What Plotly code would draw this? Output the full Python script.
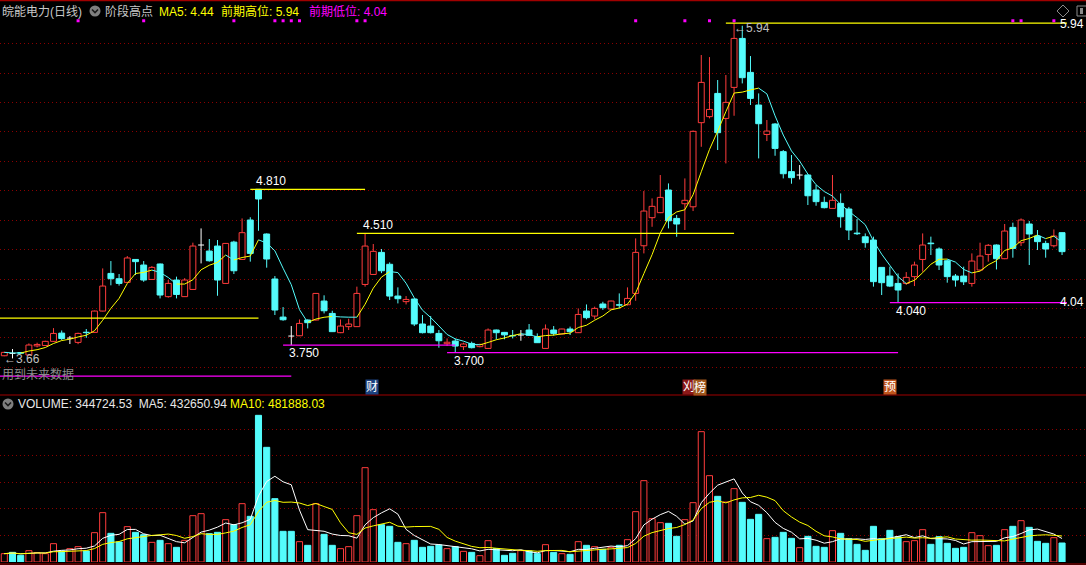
import plotly.graph_objects as go
import pandas as pd

W, H = 1086, 565

opens = [3.678, 3.694, 3.700, 3.683, 3.745, 3.748, 3.776, 3.832, 3.798, 3.769,
         3.838, 3.837, 3.982, 4.238, 4.202, 4.177, 4.333, 4.295, 4.197, 4.302,
         4.080, 4.193, 4.080, 4.129, 4.431, 4.390, 4.424, 4.170, 4.451, 4.333,
         4.601, 4.810, 4.506, 4.200, 3.941, 3.812, 3.814, 3.921, 3.921, 4.050,
         3.966, 3.835, 3.876, 3.876, 4.163, 4.231, 4.381, 4.300, 4.084, 4.046,
         4.064, 3.894, 3.880, 3.830, 3.760, 3.778, 3.740, 3.762, 3.740, 3.728,
         3.853, 3.837, 3.816, 3.819, 3.853, 3.808, 3.728, 3.853, 3.826, 3.860,
         3.835, 3.982, 3.948, 4.030, 3.996, 4.025, 4.025, 4.102, 4.426, 4.617,
         4.651, 4.805, 4.612, 4.712, 4.691, 5.263, 5.304, 5.462, 5.292, 5.503,
         5.836, 5.605, 5.383, 5.183, 5.254, 5.066, 4.930, 4.907, 4.907, 4.805,
         4.721, 4.680, 4.714, 4.676, 4.512, 4.487, 4.465, 4.279, 4.220, 4.170,
         4.170, 4.216, 4.333, 4.444, 4.404, 4.324, 4.220, 4.220, 4.170, 4.261,
         4.367, 4.431, 4.338, 4.551, 4.447, 4.574, 4.492, 4.442, 4.426, 4.515]
highs = [3.705, 3.724, 3.703, 3.762, 3.767, 3.780, 3.866, 3.850, 3.812, 3.835,
         3.860, 3.985, 4.272, 4.322, 4.234, 4.356, 4.336, 4.322, 4.288, 4.305,
         4.193, 4.216, 4.206, 4.447, 4.544, 4.472, 4.465, 4.445, 4.460, 4.612,
         4.620, 4.810, 4.510, 4.220, 4.009, 3.880, 3.925, 3.925, 4.105, 4.089,
         3.984, 3.925, 3.930, 4.148, 4.510, 4.438, 4.404, 4.313, 4.143, 4.084,
         4.066, 3.955, 3.948, 3.853, 3.796, 3.794, 3.767, 3.774, 3.760, 3.864,
         3.856, 3.840, 3.853, 3.853, 3.894, 3.830, 3.891, 3.880, 3.862, 3.876,
         4.000, 4.027, 4.012, 4.045, 4.053, 4.102, 4.143, 4.476, 4.798, 4.748,
         4.907, 4.850, 4.635, 4.884, 5.210, 5.723, 5.709, 5.553, 5.587, 5.940,
         5.922, 5.716, 5.462, 5.281, 5.260, 5.077, 5.043, 4.975, 4.910, 4.839,
         4.760, 4.907, 4.782, 4.690, 4.608, 4.510, 4.488, 4.280, 4.284, 4.238,
         4.247, 4.318, 4.510, 4.488, 4.415, 4.333, 4.234, 4.284, 4.374, 4.447,
         4.438, 4.435, 4.574, 4.583, 4.612, 4.594, 4.533, 4.460, 4.537, 4.517]
lows = [3.675, 3.660, 3.690, 3.678, 3.735, 3.745, 3.772, 3.785, 3.758, 3.757,
        3.800, 3.835, 3.980, 4.157, 4.155, 4.175, 4.227, 4.181, 4.195, 4.068,
        4.073, 4.068, 4.078, 4.127, 4.306, 4.318, 4.086, 4.168, 4.234, 4.330,
        4.318, 4.528, 4.277, 3.955, 3.916, 3.750, 3.812, 3.864, 3.918, 3.966,
        3.840, 3.832, 3.853, 3.874, 4.148, 4.228, 4.240, 4.057, 4.034, 4.027,
        3.880, 3.830, 3.830, 3.733, 3.744, 3.700, 3.717, 3.728, 3.735, 3.726,
        3.789, 3.790, 3.796, 3.780, 3.815, 3.765, 3.726, 3.815, 3.823, 3.819,
        3.833, 3.926, 3.926, 3.990, 3.994, 4.000, 4.020, 4.052, 4.374, 4.555,
        4.648, 4.544, 4.487, 4.533, 4.662, 5.099, 5.292, 5.077, 4.986, 5.310,
        5.530, 5.383, 5.020, 5.138, 5.038, 4.884, 4.848, 4.877, 4.703, 4.698,
        4.680, 4.678, 4.549, 4.465, 4.499, 4.413, 4.148, 4.091, 4.145, 4.040,
        4.160, 4.152, 4.250, 4.363, 4.261, 4.175, 4.148, 4.159, 4.148, 4.258,
        4.318, 4.265, 4.335, 4.345, 4.424, 4.295, 4.397, 4.345, 4.415, 4.363]
closes = [3.701, 3.694, 3.695, 3.751, 3.755, 3.776, 3.830, 3.795, 3.798, 3.830,
          3.835, 3.982, 4.152, 4.202, 4.170, 4.343, 4.318, 4.193, 4.279, 4.091,
          4.170, 4.095, 4.193, 4.424, 4.431, 4.324, 4.193, 4.442, 4.256, 4.515,
          4.374, 4.744, 4.336, 3.989, 3.923, 3.812, 3.898, 3.903, 4.102, 3.984,
          3.842, 3.880, 3.894, 4.102, 4.424, 4.388, 4.256, 4.084, 4.066, 4.061,
          3.894, 3.835, 3.835, 3.780, 3.770, 3.744, 3.758, 3.733, 3.755, 3.853,
          3.835, 3.820, 3.813, 3.819, 3.817, 3.767, 3.860, 3.830, 3.860, 3.842,
          3.959, 3.937, 4.000, 4.005, 4.050, 4.022, 4.068, 4.381, 4.662, 4.694,
          4.755, 4.596, 4.574, 4.735, 5.204, 5.537, 5.353, 5.195, 5.401, 5.836,
          5.569, 5.428, 5.256, 5.206, 5.088, 4.916, 4.889, 4.907, 4.766, 4.726,
          4.685, 4.735, 4.623, 4.533, 4.508, 4.447, 4.182, 4.175, 4.152, 4.125,
          4.211, 4.295, 4.431, 4.440, 4.295, 4.216, 4.193, 4.181, 4.322, 4.356,
          4.429, 4.338, 4.526, 4.408, 4.601, 4.506, 4.454, 4.404, 4.492, 4.386]
volumes = [151200, 175400, 121000, 205600, 169300, 151200, 332600, 199600, 241900, 278200,
           199600, 532200, 895100, 520100, 362900, 641100, 538300, 495900, 356800, 393100,
           332600, 266100, 393100, 840700, 877000, 514100, 538300, 768100, 677400, 1058400,
           828600, 2661100, 2080500, 1149100, 556400, 556400, 368900, 302400, 1058400, 502000,
           302400, 241900, 278200, 840700, 1711600, 949500, 677400, 647100, 356800, 332600,
           393100, 266100, 284300, 308400, 241900, 278200, 193500, 175400, 114900, 387100,
           241900, 121000, 157200, 205600, 199600, 151200, 314500, 175400, 151200, 139100,
           368900, 302400, 278200, 229800, 266100, 302400, 405200, 913200, 1475700, 786200,
           713700, 701600, 465700, 768100, 1076500, 2364800, 1566400, 1191500, 1088600, 1330600,
           1082600, 774100, 864900, 423400, 447600, 538300, 429400, 260100, 465700, 284300,
           266100, 568500, 520100, 423400, 320500, 211700, 647100, 423400, 574600, 459600,
           368900, 387100, 586700, 320500, 459600, 338700, 248000, 266100, 532200, 477800,
           296400, 302400, 586700, 647100, 750000, 629000, 375000, 338700, 441500, 344724.53]

# stage highs (yellow) and lows (magenta): level, first bar, last bar
high_levels = [3.934, 4.81, 4.51, 5.94]
high_start = [-0.6, 30, 43, 88]
high_end = [31, 44, 89, 129.6]
low_levels = [3.54, 3.75, 3.70, 4.04]
low_start = [-0.6, 34, 54, 108]
low_end = [35, 55, 109, 129.6]
signal_idx = [9, 17, 28, 33, 34, 35, 36, 43, 44, 77, 83, 86, 89, 123, 124, 128]
signal_level = 5.956

RED = '#ff3c3c'
CYAN = '#54fcfc'
WHITE = '#ffffff'
YEL = '#ffff00'
MAG = '#ff00ff'
GRID = '#8b0000'
FONT = 'Liberation Sans, Noto Sans CJK SC, sans-serif'

n = len(closes)
up = [i for i in range(n) if closes[i] > opens[i]]
dn = [i for i in range(n) if closes[i] < opens[i]]
dj = [i for i in range(n) if closes[i] == opens[i]]

fig = go.Figure()


def wicks(sel):
    xs, ys = [], []
    for i in sel:
        top = max(opens[i], closes[i])
        bot = min(opens[i], closes[i])
        xs += [i, i, None, i, i, None]
        ys += [highs[i], top, None, bot, lows[i], None]
    return xs, ys


for sel, col in ((up, RED), (dn, CYAN), (dj, WHITE)):
    xs, ys = wicks(sel)
    fig.add_trace(go.Scatter(x=xs, y=ys, mode='lines', line=dict(color=col, width=1),
                             hoverinfo='skip', xaxis='x', yaxis='y'))

BW = 0.72
fig.add_trace(go.Bar(x=up, y=[closes[i] - opens[i] for i in up], base=[opens[i] for i in up],
                     width=BW, marker=dict(color='black', line=dict(color=RED, width=1)),
                     xaxis='x', yaxis='y', hoverinfo='skip'))
fig.add_trace(go.Bar(x=dn, y=[opens[i] - closes[i] for i in dn], base=[closes[i] for i in dn],
                     width=BW, marker=dict(color=CYAN, line=dict(color=CYAN, width=1)),
                     xaxis='x', yaxis='y', hoverinfo='skip'))
dx, dy = [], []
for i in dj:
    dx += [i - BW / 2, i + BW / 2, None]
    dy += [opens[i], opens[i], None]
fig.add_trace(go.Scatter(x=dx, y=dy, mode='lines', line=dict(color=WHITE, width=1),
                         hoverinfo='skip', xaxis='x', yaxis='y'))

# MA5 coloured by direction
ma5 = pd.Series(closes).rolling(5, min_periods=1).mean().tolist()
segs = {YEL: ([], []), CYAN: ([], [])}
for i in range(1, n):
    c = YEL if ma5[i] >= ma5[i - 1] else CYAN
    segs[c][0].extend([i - 1, i, None])
    segs[c][1].extend([ma5[i - 1], ma5[i], None])
for c, (xs, ys) in segs.items():
    fig.add_trace(go.Scatter(x=xs, y=ys, mode='lines', line=dict(color=c, width=1),
                             hoverinfo='skip', xaxis='x', yaxis='y'))

# stage lines
for lv, a, b in zip(high_levels, high_start, high_end):
    fig.add_trace(go.Scatter(x=[a, b], y=[lv, lv], mode='lines', line=dict(color=YEL, width=1.3),
                             hoverinfo='skip', xaxis='x', yaxis='y'))
for lv, a, b in zip(low_levels, low_start, low_end):
    fig.add_trace(go.Scatter(x=[a, b], y=[lv, lv], mode='lines', line=dict(color=MAG, width=1.3),
                             hoverinfo='skip', xaxis='x', yaxis='y'))
fig.add_trace(go.Scatter(x=signal_idx, y=[signal_level] * len(signal_idx), mode='markers',
                         marker=dict(symbol='square', size=3, color=MAG, line=dict(width=0)),
                         hoverinfo='skip', xaxis='x', yaxis='y'))


# volume
def vol_up(i):
    if closes[i] != opens[i]:
        return closes[i] > opens[i]
    return i == 0 or closes[i] >= closes[i - 1]


vu = [i for i in range(n) if vol_up(i)]
vd = [i for i in range(n) if not vol_up(i)]
fig.add_trace(go.Bar(x=vu, y=[volumes[i] for i in vu], width=0.74,
                     marker=dict(color='black', line=dict(color=RED, width=1)),
                     xaxis='x2', yaxis='y2', hoverinfo='skip'))
fig.add_trace(go.Bar(x=vd, y=[volumes[i] for i in vd], width=0.74,
                     marker=dict(color=CYAN, line=dict(color=CYAN, width=1)),
                     xaxis='x2', yaxis='y2', hoverinfo='skip'))
vma5 = pd.Series(volumes).rolling(5, min_periods=1).mean().tolist()
vma10 = pd.Series(volumes).rolling(10, min_periods=1).mean().tolist()
fig.add_trace(go.Scatter(x=list(range(n)), y=vma5, mode='lines', line=dict(color=WHITE, width=1),
                         xaxis='x2', yaxis='y2', hoverinfo='skip'))
fig.add_trace(go.Scatter(x=list(range(n)), y=vma10, mode='lines', line=dict(color=YEL, width=1),
                         xaxis='x2', yaxis='y2', hoverinfo='skip'))


def px(x):
    return x / W


def py(y):
    return 1 - y / H


ann = []


def txt(x, y, s, color, size=12, xanchor='left', yanchor='middle', bg=None):
    d = dict(x=px(x), y=py(y), xref='paper', yref='paper', text=s, showarrow=False,
             xanchor=xanchor, yanchor=yanchor, font=dict(family=FONT, size=size, color=color),
             borderpad=0)
    if bg:
        d['bgcolor'] = bg
    ann.append(d)


def dtxt(x, y, s, color, xanchor='left', yanchor='bottom', size=12):
    ann.append(dict(x=x, y=y, xref='x', yref='y', text=s, showarrow=False, xanchor=xanchor,
                    yanchor=yanchor, font=dict(family=FONT, size=size, color=color), borderpad=0))


# header texts
txt(1, 12, '皖能电力(日线)', '#c8c8c8')
txt(104, 12, '阶段高点', '#c8c8c8')
txt(158, 12, 'MA5: 4.44', YEL)
txt(220, 12, '前期高位: 5.94', YEL)
txt(308, 12, '前期低位: 4.04', MAG)
txt(17, 404, 'VOLUME: 344724.53  MA5: 432650.94', '#e8e8e8')
txt(229, 404, 'MA10: 481888.03', YEL)
txt(1, 374, '用到未来数据', '#8c8c8c')

# level labels
dtxt(30.6, 4.81, '4.810', WHITE)
dtxt(43.6, 4.51, '4.510', WHITE)
dtxt(34.6, 3.75, '3.750', WHITE, yanchor='top')
dtxt(54.7, 3.70, '3.700', WHITE, yanchor='top')
dtxt(108.6, 4.04, '4.040', WHITE, yanchor='top')
txt(1085, 302, '4.04', WHITE, xanchor='right')
txt(1085, 24, '5.94', WHITE, xanchor='right')
dtxt(88.9, 5.905, '←5.94', '#c0c0c0', yanchor='middle')
dtxt(-0.1, 3.655, '←3.66', '#c0c0c0', yanchor='middle')

# event marks
txt(371.5, 387, '财', WHITE, xanchor='center', bg='#1c4280')
txt(688.5, 387, '刈', WHITE, xanchor='center', bg='#8c1818')
txt(699.5, 387, '榜', WHITE, xanchor='center', bg='#a0561c')
txt(889.5, 387, '预', WHITE, xanchor='center', bg='#c0541c')

shapes = []


def hline(y, color='#a00000', w=1.2):
    shapes.append(dict(type='line', xref='paper', yref='paper', x0=0, x1=1, y0=py(y), y1=py(y),
                       line=dict(color=color, width=w)))


hline(0.6)
hline(395)
hline(564)


def circle_icon(cx, cy):
    shapes.append(dict(type='circle', xref='paper', yref='paper', x0=px(cx - 5.5), x1=px(cx + 5.5),
                       y0=py(cy + 5.5), y1=py(cy - 5.5), fillcolor='#7f7f7f', line=dict(width=0)))
    shapes.append(dict(type='path', xref='paper', yref='paper',
                       path=f'M {px(cx-3)} {py(cy-1.5)} L {px(cx)} {py(cy+1.5)} L {px(cx+3)} {py(cy-1.5)}',
                       line=dict(color='#1a1a1a', width=1.6)))


circle_icon(95, 11)
circle_icon(8, 404)
shapes.append(dict(type='path', xref='paper', yref='paper',
                   path=f'M {px(1063)} {py(5)} L {px(1069)} {py(11)} L {px(1063)} {py(17)} L {px(1057)} {py(11)} Z',
                   line=dict(color='#8a8a8a', width=1)))
shapes.append(dict(type='rect', xref='paper', yref='paper', x0=px(1077), x1=px(1090),
                   y0=py(16), y1=py(6), line=dict(color='#8a8a8a', width=1)))
shapes.append(dict(type='rect', xref='paper', yref='paper', x0=px(1080), x1=px(1083),
                   y0=py(14), y1=py(8), fillcolor='#8a8a8a', line=dict(width=0)))

xr = [-0.524, 131.92]
fig.update_layout(
    width=W, height=H, margin=dict(l=0, r=0, t=0, b=0), autosize=False,
    paper_bgcolor='black', plot_bgcolor='black', showlegend=False, barmode='overlay',
    xaxis=dict(domain=[0, 1], range=xr, visible=False, anchor='y'),
    xaxis2=dict(domain=[0, 1], range=xr, visible=False, anchor='y2', matches='x'),
    yaxis=dict(domain=[py(395), py(0)], range=[3.4112, 6.0972], showticklabels=False, ticks='',
               showgrid=True, gridcolor=GRID, griddash='1px,3px', gridwidth=1,
               tickvals=[3.6 + 0.2 * k for k in range(12)], zeroline=False, showline=False),
    yaxis2=dict(domain=[py(562), py(397)], range=[0, 2993760], showticklabels=False, ticks='',
                showgrid=True, gridcolor=GRID, griddash='1px,3px', gridwidth=1,
                tickvals=[482500 * k for k in range(1, 6)], zeroline=False, showline=False),
    annotations=ann, shapes=shapes, hovermode=False,
)

fig.write_html('out.html', config={'displayModeBar': False},
               post_script="document.body.style.margin='0';document.body.style.background='black';")
